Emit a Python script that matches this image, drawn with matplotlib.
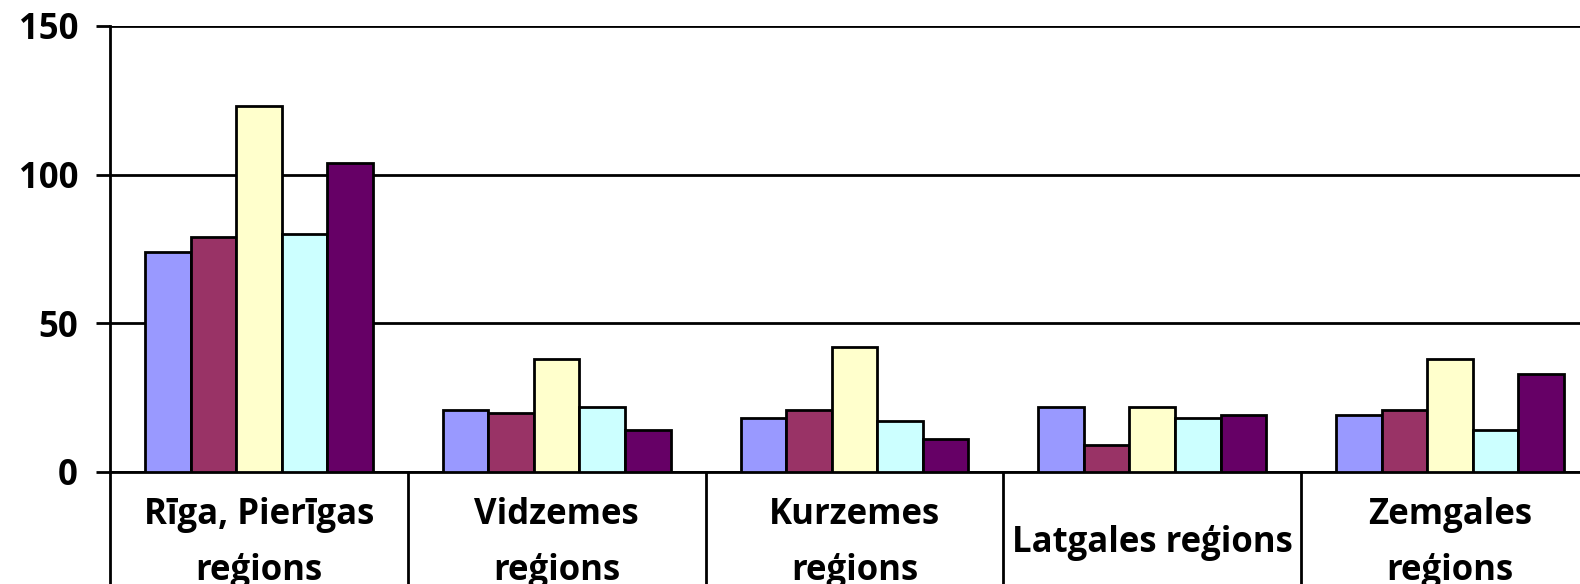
import matplotlib.pyplot as plt
import numpy as np

regions = ['Rīga, Pierīgas\nreģions', 'Vidzemes\nreģions', 'Kurzemes\nreģions',
           'Latgales reģions', 'Zemgales\nreģions']
s1 = [74, 21, 18, 22, 19]
s2 = [79, 20, 21, 9, 21]
s3 = [123, 38, 42, 22, 38]
s4 = [80, 22, 17, 18, 14]
s5 = [104, 14, 11, 19, 33]
series = [s1, s2, s3, s4, s5]
colors = ['#9999FF', '#993366', '#FFFFCC', '#CCFFFF', '#660066']

plt.rcParams['font.family'] = ['Open Sans', 'DejaVu Sans']
plt.rcParams['font.weight'] = 'bold'

fig = plt.figure(figsize=(15.8, 5.84), dpi=100)
ax = fig.add_axes([0.0696, 0.1918, 0.9424, 0.7637])

x = np.arange(len(regions))
w = 0.153
for i, (vals, c) in enumerate(zip(series, colors)):
    ax.bar(x + (i - 2) * w, vals, w, color=c, edgecolor='black', linewidth=2, zorder=3)

ax.set_ylim(0, 150)
ax.set_xlim(-0.5, len(regions) - 0.5)
ax.set_yticks([0, 50, 100, 150])
ax.yaxis.grid(True, color='black', linewidth=2, zorder=0)
ax.tick_params(axis='y', length=10, width=2, pad=13, labelsize=25)

ax.set_xticks(x)
ax.set_xticklabels(regions, fontsize=25, fontweight='bold', linespacing=1.74, va='center')
ax.tick_params(axis='x', which='major', length=0, pad=51)
ax.set_xticks(np.arange(-0.5, len(regions)), minor=True)
ax.tick_params(axis='x', which='minor', length=100, width=2, direction='out')

for s in ['top', 'right']:
    ax.spines[s].set_visible(False)
ax.spines['left'].set_linewidth(2)
ax.spines['bottom'].set_linewidth(2)

fig.savefig('out.png', dpi=100)
